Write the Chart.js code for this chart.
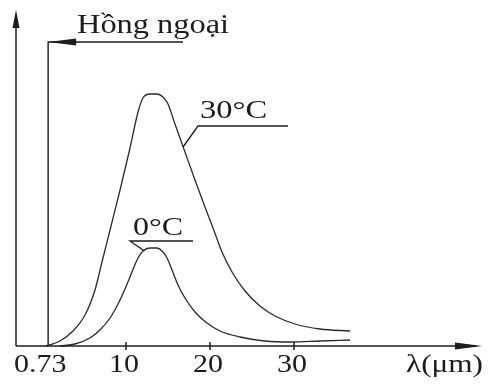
<!DOCTYPE html>
<html>
<head>
<meta charset="utf-8">
<script src="https://cdn.jsdelivr.net/npm/chart.js@4/dist/chart.umd.min.js"></script>
<style>
  html, body { margin: 0; padding: 0; background: #fff; }
  canvas { display: block; }
</style>
</head>
<body>
<canvas id="spectrum" width="490" height="385"></canvas>
<script>
// Emission spectra (relative intensity)
const wavelength30 = [0.48, 2.14, 3.69, 5.12, 6.31, 7.14, 8.1, 9.29, 10.48, 11.43, 12.02, 12.86, 13.69, 14.4, 15.0, 15.83, 17.02, 18.21, 19.4, 20.36, 21.43, 22.62, 24.17, 25.95, 27.74, 30.12, 33.1, 36.67];
const intensity30  = [0, 0.05, 0.15, 0.31, 0.56, 0.84, 1.16, 1.56, 1.98, 2.34, 2.48, 2.52, 2.52, 2.49, 2.42, 2.22, 1.94, 1.66, 1.39, 1.18, 0.94, 0.74, 0.55, 0.40, 0.30, 0.22, 0.17, 0.15];

const wavelength0 = [2.14, 3.93, 5.71, 6.9, 8.1, 9.05, 9.88, 10.71, 11.43, 12.02, 12.86, 13.69, 14.29, 14.88, 15.48, 16.19, 17.02, 18.21, 19.64, 21.19, 23.57, 26.55, 29.52, 33.1, 36.67];
const intensity0  = [0, 0.02, 0.08, 0.16, 0.28, 0.42, 0.57, 0.74, 0.88, 0.95, 0.98, 0.98, 0.95, 0.88, 0.76, 0.61, 0.48, 0.34, 0.23, 0.15, 0.09, 0.05, 0.04, 0.05, 0.06];

const tickValues = [0.73, 10, 20, 30];
const tickLabels = ["0.73", "10", "20", "30"];
const infraredStart = 0.73;

const INK = "#1c1c1c";
const SERIF = "'Liberation Serif', 'Times New Roman', serif";

function toPoints(xs, ys) {
    return xs.map((x, i) => ({ x, y: ys[i] }));
}

// the sketch's lettering is a bit stretched sideways
function wideText(ctx, text, x, y, size, sx, align) {
    ctx.save();
    ctx.font = `${size}px ${SERIF}`;
    ctx.fillStyle = INK;
    ctx.textAlign = align || "left";
    ctx.textBaseline = "alphabetic";
    ctx.translate(x, y);
    ctx.scale(sx, 1);
    ctx.fillText(text, 0, 0);
    ctx.restore();
}

function arrowHead(ctx, tipX, tipY, dir, len, half) {
    ctx.beginPath();
    if (dir === "up") {
        ctx.moveTo(tipX, tipY);
        ctx.lineTo(tipX - half, tipY + len);
        ctx.lineTo(tipX + half, tipY + len);
    } else if (dir === "right") {
        ctx.moveTo(tipX, tipY);
        ctx.lineTo(tipX - len, tipY - half);
        ctx.lineTo(tipX - len, tipY + half);
    } else {
        ctx.moveTo(tipX, tipY);
        ctx.lineTo(tipX + len, tipY - half);
        ctx.lineTo(tipX + len, tipY + half);
    }
    ctx.closePath();
    ctx.fill();
}

const sketchAxes = {
    id: "sketchAxes",
    afterDraw(chart) {
        const { ctx, chartArea } = chart;
        const xs = chart.scales.x;
        const ys = chart.scales.y;
        const left = chartArea.left, bottom = chartArea.bottom;
        ctx.save();
        ctx.strokeStyle = INK;
        ctx.fillStyle = INK;
        ctx.lineWidth = 1.5;

        // axes with arrow heads
        ctx.beginPath();
        ctx.moveTo(left, bottom);
        ctx.lineTo(left, chartArea.top + 6);
        ctx.moveTo(left, bottom);
        ctx.lineTo(chartArea.right - 6, bottom);
        ctx.stroke();
        arrowHead(ctx, left, chartArea.top, "up", 18, 3.5);
        arrowHead(ctx, chartArea.right, bottom, "right", 27, 3.5);

        // ticks + labels
        tickValues.forEach((v, i) => {
            const px = xs.getPixelForValue(v);
            if (v !== infraredStart) {
                ctx.beginPath();
                ctx.moveTo(px, bottom - 4);
                ctx.lineTo(px, bottom + 4);
                ctx.stroke();
            }
            const shift = v === infraredStart ? -8 : -2;
            wideText(ctx, tickLabels[i], px + shift, bottom + 26, 25, 1.2, "center");
        });
        wideText(ctx, "λ(μm)", chartArea.right + 1, bottom + 26, 25, 1.25, "right");

        // infrared boundary
        const ix = xs.getPixelForValue(infraredStart);
        const iy = 42;
        ctx.lineWidth = 1.4;
        ctx.beginPath();
        ctx.moveTo(ix, bottom);
        ctx.lineTo(ix, iy);
        ctx.lineTo(183, iy);
        ctx.stroke();
        arrowHead(ctx, ix, iy, "left", 28, 3.5);
        wideText(ctx, "Hồng ngoại", 77, 33, 27, 1.2, "left");

        // curve labels with leader lines
        ctx.lineWidth = 1.3;
        const a30x = xs.getPixelForValue(16.79), a30y = ys.getPixelForValue(1.99);
        ctx.beginPath();
        ctx.moveTo(a30x, a30y);
        ctx.lineTo(198, 126);
        ctx.lineTo(288, 126);
        ctx.stroke();
        wideText(ctx, "30°C", 200, 118, 25, 1.3, "left");

        const a0x = xs.getPixelForValue(12.2), a0y = ys.getPixelForValue(0.95);
        ctx.beginPath();
        ctx.moveTo(a0x, a0y);
        ctx.lineTo(130, 241);
        ctx.lineTo(193, 241);
        ctx.stroke();
        wideText(ctx, "0°C", 133, 235, 25, 1.28, "left");

        ctx.restore();
    }
};

const curveStyle = {
    borderColor: "#2a2a2a",
    borderWidth: 1.3,
    pointRadius: 0,
    fill: false,
    cubicInterpolationMode: "monotone",
    clip: false,
};

(async function drawSpectrum() {
    // make sure the serif face is ready before the canvas paints text
    try {
        await document.fonts.load(`25px 'Liberation Serif'`, "Hồng ngoại 0.73 λ(μm)");
    } catch (e) {
        // fall through with whatever font is there
    }

    new Chart(document.getElementById("spectrum"), {
        type: "line",
        data: {
            datasets: [
                Object.assign({ label: "30°C", data: toPoints(wavelength30, intensity30) }, curveStyle),
                Object.assign({ label: "0°C", data: toPoints(wavelength0, intensity0) }, curveStyle),
            ],
        },
        options: {
            responsive: false,
            animation: false,
            layout: { padding: { left: 16, right: 8, top: 10, bottom: 39 } },
            scales: {
                x: { type: "linear", min: -3.095, max: 52.38, display: false },
                y: { type: "linear", min: 0, max: 3.36, display: false },
            },
            plugins: {
                legend: { display: false },
                tooltip: { enabled: false },
            },
        },
        plugins: [sketchAxes],
    });
})();
</script>
</body>
</html>
